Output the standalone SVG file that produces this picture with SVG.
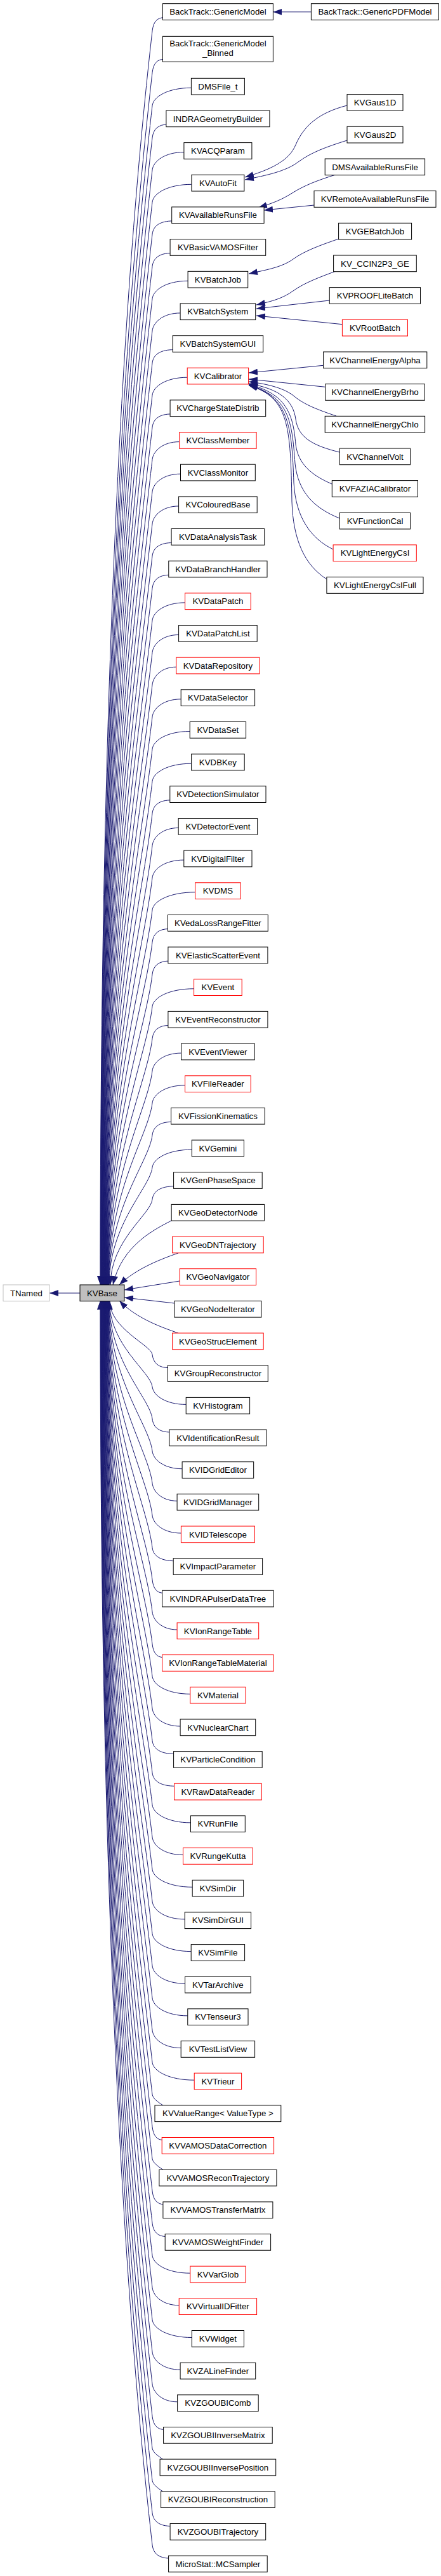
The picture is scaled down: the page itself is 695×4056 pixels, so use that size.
<svg xmlns="http://www.w3.org/2000/svg" width="695" height="4056" viewBox="0 0 695 4056">
<style>
.node rect{fill:#fff;stroke:#000;stroke-width:1}
.node.red rect{stroke:#ff0000}
.node.base rect{fill:#bfbfbf}
.node.ext rect{stroke:#bfbfbf}
.node text{font-family:"Liberation Sans",Arial,Helvetica,sans-serif;font-size:13.3px;text-anchor:middle;fill:#000}
#edges path{fill:none;stroke:#191970;stroke-width:1;marker-end:url(#arrow)}
</style>
<defs>
<marker id="arrow" viewBox="0 0 14 10" refX="14" refY="5" markerWidth="14" markerHeight="10" markerUnits="userSpaceOnUse" orient="auto"><path d="M0,0 L14,5 L0,10 Z" fill="#191970"/></marker>
</defs>
<rect x="0" y="0" width="695" height="4056" fill="#fff"/>
<g id="edges">
<path d="M126,2036 L78,2036"/>
<path d="M490.4,18.8 L430.4,18.8"/>
<path d="M547,166 C500,178 478,200 466,228 C456,252 430,266 386,279"/>
<path d="M547,221 C515,231 490,240 470,255 C450,270 420,276 386,283"/>
<path d="M529,275 C500,284 480,292 462,303 C445,314 430,320 407,327"/>
<path d="M495,323 L416,331"/>
<path d="M534,376 C505,386 480,395 462,408 C445,420 425,424 392,431"/>
<path d="M529,427 C505,436 480,445 462,458 C445,470 430,474 404,480"/>
<path d="M519.3,473 L404,486"/>
<path d="M539.4,510.7 L404,497"/>
<path d="M509.6,575.3 L392,587"/>
<path d="M512.7,609.3 L392,597"/>
<path d="M530,655 C500,645 480,637 465,625 C450,612 425,605 392,601"/>
<path d="M535,712 C495,702 470,690 466,660 C462,630 440,612 392,604"/>
<path d="M523,762 C490,748 470,730 466,700 C462,650 450,620 392,605"/>
<path d="M535,816 C495,800 470,775 465,730 C460,660 455,625 392,606"/>
<path d="M525,865 C490,848 466,815 463,760 C460,670 455,625 392,606"/>
<path d="M515,912 C480,890 462,850 460,790 C458,670 455,625 392,607"/>
<path d="M258.4,27.7 C247.4,27.7 241.6,34.7 240,48.7 C200.5,394.2 158,996.4 158,2023"/>
<path d="M258.4,93.3 C247.4,93.3 241.6,100.3 240,114.3 C201.8,448.3 158.4,1030.5 158.4,2023"/>
<path d="M301.4,138.3 C264.6,138.3 241.6,152.3 240,166.3 C202.9,491.2 158.8,1057.5 158.8,2023"/>
<path d="M263.9,196 C249.6,196 241.6,203 240,217 C203.9,533 159.2,1083.9 159.2,2023"/>
<path d="M289.9,239.6 C260,239.6 241.6,253.6 240,267.6 C204.9,574.8 159.6,1110.2 159.6,2023"/>
<path d="M301.9,290.3 C264.8,290.3 241.6,304.3 240,318.3 C205.9,616.6 160,1136.6 160,2023"/>
<path d="M272.7,347.9 C253.1,347.9 241.6,354.9 240,368.9 C206.9,658.4 160.4,1162.9 160.4,2023"/>
<path d="M270.1,398.6 C252,398.6 241.6,405.6 240,419.6 C207.9,700.2 160.8,1189.2 160.8,2023"/>
<path d="M296.1,442.3 C262.4,442.3 241.6,456.3 240,470.3 C208.9,742 161.2,1215.6 161.2,2023"/>
<path d="M284.1,492.9 C257.6,492.9 241.6,506.9 240,520.9 C210,783.8 161.6,1241.9 161.6,2023"/>
<path d="M274.1,550.6 C253.6,550.6 241.6,557.6 240,571.6 C211,825.6 162,1268.3 162,2023"/>
<path d="M295.2,594.2 C262.1,594.2 241.6,608.2 240,622.2 C212,867.3 162.4,1294.6 162.4,2023"/>
<path d="M270.1,651.9 C252,651.9 241.6,658.9 240,672.9 C213,909.2 162.8,1320.9 162.8,2023"/>
<path d="M282.7,695.6 C257.1,695.6 241.6,709.6 240,723.6 C214,951 163.2,1347.3 163.2,2023"/>
<path d="M284.5,746.2 C257.8,746.2 241.6,760.2 240,774.2 C215,992.7 163.6,1373.6 163.6,2023"/>
<path d="M281.6,796.9 C256.6,796.9 241.6,810.9 240,824.9 C216,1034.6 164,1400 164,2023"/>
<path d="M272.1,854.5 C252.8,854.5 241.6,861.5 240,875.5 C217,1076.3 164.4,1426.3 164.4,2023"/>
<path d="M267.8,905.2 C251.1,905.2 241.6,912.2 240,926.2 C218.1,1118.1 164.8,1452.7 164.8,2023"/>
<path d="M291.6,948.9 C260.6,948.9 241.6,962.9 240,976.9 C219.1,1160 165.2,1479 165.2,2023"/>
<path d="M281.6,999.5 C256.6,999.5 241.6,1013.5 240,1027.5 C220.1,1201.7 165.6,1505.3 165.6,2023"/>
<path d="M277.8,1050.2 C255.1,1050.2 241.6,1064.2 240,1078.2 C221.1,1243.5 166,1531.7 166,2023"/>
<path d="M285.2,1100.8 C258.1,1100.8 241.6,1114.8 240,1128.8 C222.1,1285.3 166.4,1558 166.4,2023"/>
<path d="M299.2,1151.5 C263.7,1151.5 241.6,1165.5 240,1179.5 C223.1,1327.1 166.8,1584.4 166.8,2023"/>
<path d="M301.6,1202.2 C264.6,1202.2 241.6,1216.2 240,1230.2 C224.1,1368.9 167.2,1610.7 167.2,2023"/>
<path d="M269.8,1259.8 C251.9,1259.8 241.6,1266.8 240,1280.8 C225.2,1410.7 167.6,1637.1 167.6,2023"/>
<path d="M281.2,1303.5 C256.5,1303.5 241.6,1317.5 240,1331.5 C226.2,1452.5 168,1663.4 168,2023"/>
<path d="M289.8,1354.1 C259.9,1354.1 241.6,1368.1 240,1382.1 C227.2,1494.3 168.4,1689.7 168.4,2023"/>
<path d="M307.6,1404.8 C267,1404.8 241.6,1418.8 240,1432.8 C228.2,1536.1 168.8,1716.1 168.8,2023"/>
<path d="M266.5,1462.5 C250.6,1462.5 241.6,1469.5 240,1483.5 C229.2,1577.9 169.2,1742.5 169.2,2023"/>
<path d="M266.9,1513.1 C250.8,1513.1 241.6,1520.1 240,1534.1 C230.2,1619.7 169.6,1768.8 169.6,2023"/>
<path d="M305.6,1556.8 C266.2,1556.8 241.6,1570.8 240,1584.8 C231.2,1661.5 170,1795.1 170,2023"/>
<path d="M266.9,1614.4 C250.8,1614.4 241.6,1621.4 240,1635.4 C232.2,1703.2 170.4,1821.4 170.4,2023"/>
<path d="M285.6,1658.1 C258.2,1658.1 241.6,1672.1 240,1686.1 C233.3,1745.1 170.8,1847.8 170.8,2023"/>
<path d="M291.6,1708.8 C260.6,1708.8 241.6,1722.8 240,1736.8 C234.3,1786.9 171.2,1874.2 171.2,2023"/>
<path d="M271.6,1766.4 C252.6,1766.4 241.6,1773.4 240,1787.4 C235.3,1828.6 171.6,1900.5 171.6,2023"/>
<path d="M302.3,1810.1 C264.9,1810.1 241.6,1824.1 240,1838.1 C236.3,1870.5 172,1926.9 172,2023"/>
<path d="M275.6,1867.7 C254.2,1867.7 241.6,1874.7 240,1888.7 C237.3,1912.2 174,1953.2 174,2023"/>
<path d="M272,1921 C245,1935 192,1960 178,2023"/>
<path d="M281,1973 C255,1982 215,1997 188,2023"/>
<path d="M283.2,2017 L196,2031"/>
<path d="M274.9,2052 L196,2043"/>
<path d="M281,2099 C255,2090 215,2076 188,2048"/>
<path d="M266.5,2153.7 C250.6,2153.7 241.6,2146.7 240,2132.7 C238.3,2117.9 172.8,2092 172.8,2048"/>
<path d="M293.2,2211.4 C261.3,2211.4 241.6,2197.4 240,2183.4 C237.3,2159.7 172.4,2118.4 172.4,2048"/>
<path d="M268.9,2255 C251.6,2255 241.6,2248 240,2234 C236.3,2201.4 172,2144.7 172,2048"/>
<path d="M287.1,2312.7 C258.8,2312.7 241.6,2298.7 240,2284.7 C235.3,2243.3 171.6,2171.1 171.6,2048"/>
<path d="M279.1,2363.3 C255.6,2363.3 241.6,2349.3 240,2335.3 C234.3,2285 171.2,2197.4 171.2,2048"/>
<path d="M285.4,2414 C258.2,2414 241.6,2400 240,2386 C233.2,2326.8 170.8,2223.8 170.8,2048"/>
<path d="M275.2,2457.7 C254.1,2457.7 241.6,2450.7 240,2436.7 C232.2,2368.7 170.4,2250.1 170.4,2048"/>
<path d="M257.6,2508.3 C247,2508.3 241.6,2501.3 240,2487.3 C231.2,2410.4 170,2276.4 170,2048"/>
<path d="M279.1,2566 C255.6,2566 241.6,2552 240,2538 C230.2,2452.2 169.6,2302.8 169.6,2048"/>
<path d="M257.6,2609.6 C247,2609.6 241.6,2602.6 240,2588.6 C229.2,2494 169.2,2329.1 169.2,2048"/>
<path d="M299.8,2667.3 C263.9,2667.3 241.6,2653.3 240,2639.3 C228.2,2535.8 168.8,2355.5 168.8,2048"/>
<path d="M284.1,2718 C257.6,2718 241.6,2704 240,2690 C227.2,2577.6 168.4,2381.8 168.4,2048"/>
<path d="M275.6,2761.6 C254.2,2761.6 241.6,2754.6 240,2740.6 C226.1,2619.4 168,2408.2 168,2048"/>
<path d="M276.5,2812.3 C254.6,2812.3 241.6,2805.3 240,2791.3 C225.1,2661.2 167.6,2434.5 167.6,2048"/>
<path d="M300.5,2869.9 C264.2,2869.9 241.6,2855.9 240,2841.9 C224.1,2703 167.2,2460.8 167.2,2048"/>
<path d="M288.5,2920.6 C259.4,2920.6 241.6,2906.6 240,2892.6 C223.1,2744.8 166.8,2487.2 166.8,2048"/>
<path d="M303.2,2971.3 C265.3,2971.3 241.6,2957.3 240,2943.3 C222.1,2786.6 166.4,2513.6 166.4,2048"/>
<path d="M291.2,3021.9 C260.5,3021.9 241.6,3007.9 240,2993.9 C221.1,2828.4 166,2539.9 166,2048"/>
<path d="M301.2,3072.6 C264.5,3072.6 241.6,3058.6 240,3044.6 C220.1,2870.2 165.6,2566.2 165.6,2048"/>
<path d="M291.6,3123.2 C260.6,3123.2 241.6,3109.2 240,3095.2 C219.1,2911.9 165.2,2592.5 165.2,2048"/>
<path d="M295.8,3173.9 C262.3,3173.9 241.6,3159.9 240,3145.9 C218,2953.8 164.8,2618.9 164.8,2048"/>
<path d="M285.2,3224.6 C258.1,3224.6 241.6,3210.6 240,3196.6 C217,2995.6 164.4,2645.3 164.4,2048"/>
<path d="M306.2,3275.2 C266.5,3275.2 241.6,3261.2 240,3247.2 C216,3037.3 164,2671.6 164,2048"/>
<path d="M257,3315 C248,3309 241.6,3305 240,3297.9 C215.3,3082.1 163.6,2706.1 163.6,2048"/>
<path d="M257.2,3369.5 C246.9,3369.5 241.6,3362.5 240,3348.5 C214,3120.9 163.2,2724.3 163.2,2048"/>
<path d="M257,3416.5 C248,3410 241.6,3406 240,3399.2 C213,3162.7 162.8,2750.6 162.8,2048"/>
<path d="M258.9,3470.9 C247.6,3470.9 241.6,3463.9 240,3449.9 C212,3204.6 162.4,2777 162.4,2048"/>
<path d="M262.2,3521.5 C248.9,3521.5 241.6,3514.5 240,3500.5 C211,3246.3 162,2803.3 162,2048"/>
<path d="M299.8,3579.2 C263.9,3579.2 241.6,3565.2 240,3551.2 C209.9,3288.1 161.6,2829.7 161.6,2048"/>
<path d="M282.2,3629.8 C256.9,3629.8 241.6,3615.8 240,3601.8 C208.9,3329.9 161.2,2856 161.2,2048"/>
<path d="M302.3,3680.5 C264.9,3680.5 241.6,3666.5 240,3652.5 C207.9,3371.7 160.8,2882.3 160.8,2048"/>
<path d="M284.1,3731.2 C257.6,3731.2 241.6,3717.2 240,3703.2 C206.9,3413.5 160.4,2908.7 160.4,2048"/>
<path d="M279.6,3781.8 C255.8,3781.8 241.6,3767.8 240,3753.8 C205.9,3455.3 160,2935 160,2048"/>
<path d="M259.6,3825.5 C247.8,3825.5 241.6,3818.5 240,3804.5 C204.9,3497.1 159.6,2961.4 159.6,2048"/>
<path d="M257,3872.5 C248,3866 241.6,3862 240,3855.1 C203.9,3538.9 159.2,2987.7 159.2,2048"/>
<path d="M257,3923.2 C248,3917 241.6,3913 240,3905.8 C202.8,3580.7 158.8,3014.1 158.8,2048"/>
<path d="M270.1,3977.5 C252,3977.5 241.6,3970.5 240,3956.5 C201.8,3622.5 158.4,3040.4 158.4,2048"/>
<path d="M267.6,4028.1 C251,4028.1 241.6,4021.1 240,4007.1 C200.8,3664.3 158,3066.7 158,2048"/>
</g>
<g id="n-TNamed" class="node ext" transform="translate(0,2023)"><rect x="5" y="0" width="73" height="25.7"/><text x="41.5" y="17.6">TNamed</text></g>
<g id="n-KVBase" class="node base" transform="translate(0,2023)"><rect x="126" y="0" width="70" height="25.7"/><text x="161" y="17.6">KVBase</text></g>
<g id="n-GenericPDFModel" class="node" transform="translate(0,5.7)"><rect x="490.4" y="0" width="201" height="25.7"/><text x="591" y="17.6">BackTrack::GenericPDFModel</text></g>
<g id="n-KVGaus1D" class="node" transform="translate(0,148.6)"><rect x="547" y="0" width="88" height="25.7"/><text x="591" y="17.6">KVGaus1D</text></g>
<g id="n-KVGaus2D" class="node" transform="translate(0,199.3)"><rect x="547" y="0" width="88" height="25.7"/><text x="591" y="17.6">KVGaus2D</text></g>
<g id="n-DMSAvailableRunsFile" class="node" transform="translate(0,250)"><rect x="512.2" y="0" width="157.4" height="25.7"/><text x="591" y="17.6">DMSAvailableRunsFile</text></g>
<g id="n-KVRemoteAvailableRunsFile" class="node" transform="translate(0,300.6)"><rect x="495" y="0" width="192" height="25.7"/><text x="591" y="17.6">KVRemoteAvailableRunsFile</text></g>
<g id="n-KVGEBatchJob" class="node" transform="translate(0,351.3)"><rect x="533.6" y="0" width="115" height="25.7"/><text x="591" y="17.6">KVGEBatchJob</text></g>
<g id="n-KV_CCIN2P3_GE" class="node" transform="translate(0,402)"><rect x="525.6" y="0" width="130.7" height="25.7"/><text x="591" y="17.6">KV_CCIN2P3_GE</text></g>
<g id="n-KVPROOFLiteBatch" class="node" transform="translate(0,452.6)"><rect x="519.3" y="0" width="143.2" height="25.7"/><text x="591" y="17.6">KVPROOFLiteBatch</text></g>
<g id="n-KVRootBatch" class="node red" transform="translate(0,503.3)"><rect x="539.4" y="0" width="103.1" height="25.7"/><text x="591" y="17.6">KVRootBatch</text></g>
<g id="n-KVChannelEnergyAlpha" class="node" transform="translate(0,554)"><rect x="509.6" y="0" width="163.2" height="25.7"/><text x="591" y="17.6">KVChannelEnergyAlpha</text></g>
<g id="n-KVChannelEnergyBrho" class="node" transform="translate(0,604.6)"><rect x="512.7" y="0" width="156.5" height="25.7"/><text x="591" y="17.6">KVChannelEnergyBrho</text></g>
<g id="n-KVChannelEnergyChIo" class="node" transform="translate(0,655.3)"><rect x="512.2" y="0" width="157.4" height="25.7"/><text x="591" y="17.6">KVChannelEnergyChIo</text></g>
<g id="n-KVChannelVolt" class="node" transform="translate(0,706)"><rect x="535.3" y="0" width="111.2" height="25.7"/><text x="591" y="17.6">KVChannelVolt</text></g>
<g id="n-KVFAZIACalibrator" class="node" transform="translate(0,756.6)"><rect x="523.3" y="0" width="135.2" height="25.7"/><text x="591" y="17.6">KVFAZIACalibrator</text></g>
<g id="n-KVFunctionCal" class="node" transform="translate(0,807.3)"><rect x="535.3" y="0" width="111.2" height="25.7"/><text x="591" y="17.6">KVFunctionCal</text></g>
<g id="n-KVLightEnergyCsI" class="node red" transform="translate(0,857.9)"><rect x="525.1" y="0" width="131.2" height="25.7"/><text x="591" y="17.6">KVLightEnergyCsI</text></g>
<g id="n-KVLightEnergyCsIFull" class="node" transform="translate(0,908.6)"><rect x="514.9" y="0" width="152.1" height="25.7"/><text x="591" y="17.6">KVLightEnergyCsIFull</text></g>
<g id="n-GenericModel" class="node" transform="translate(0,5.7)"><rect x="256.4" y="0" width="174" height="25.7"/><text x="343.4" y="17.6">BackTrack::GenericModel</text></g>
<g id="n-GenericModel_Binned" class="node" transform="translate(0,57.3)"><rect x="256.4" y="0" width="174" height="40"/><text x="343.4" y="16">BackTrack::GenericModel</text><text x="343.4" y="31">_Binned</text></g>
<g id="n-DMSFile_t" class="node" transform="translate(0,123.3)"><rect x="301.4" y="0" width="84" height="25.7"/><text x="343.4" y="17.6">DMSFile_t</text></g>
<g id="n-INDRAGeometryBuilder" class="node" transform="translate(0,174)"><rect x="261.9" y="0" width="163" height="25.7"/><text x="343.4" y="17.6">INDRAGeometryBuilder</text></g>
<g id="n-KVACQParam" class="node" transform="translate(0,224.6)"><rect x="289.9" y="0" width="107" height="25.7"/><text x="343.4" y="17.6">KVACQParam</text></g>
<g id="n-KVAutoFit" class="node" transform="translate(0,275.3)"><rect x="301.9" y="0" width="83" height="25.7"/><text x="343.4" y="17.6">KVAutoFit</text></g>
<g id="n-KVAvailableRunsFile" class="node" transform="translate(0,325.9)"><rect x="270.7" y="0" width="145.4" height="25.7"/><text x="343.4" y="17.6">KVAvailableRunsFile</text></g>
<g id="n-KVBasicVAMOSFilter" class="node" transform="translate(0,376.6)"><rect x="268.1" y="0" width="150.6" height="25.7"/><text x="343.4" y="17.6">KVBasicVAMOSFilter</text></g>
<g id="n-KVBatchJob" class="node" transform="translate(0,427.3)"><rect x="296.1" y="0" width="94.6" height="25.7"/><text x="343.4" y="17.6">KVBatchJob</text></g>
<g id="n-KVBatchSystem" class="node" transform="translate(0,477.9)"><rect x="284.1" y="0" width="118.6" height="25.7"/><text x="343.4" y="17.6">KVBatchSystem</text></g>
<g id="n-KVBatchSystemGUI" class="node" transform="translate(0,528.6)"><rect x="272.1" y="0" width="142.6" height="25.7"/><text x="343.4" y="17.6">KVBatchSystemGUI</text></g>
<g id="n-KVCalibrator" class="node red" transform="translate(0,579.2)"><rect x="295.2" y="0" width="96.4" height="25.7"/><text x="343.4" y="17.6">KVCalibrator</text></g>
<g id="n-KVChargeStateDistrib" class="node" transform="translate(0,629.9)"><rect x="268.1" y="0" width="150.6" height="25.7"/><text x="343.4" y="17.6">KVChargeStateDistrib</text></g>
<g id="n-KVClassMember" class="node red" transform="translate(0,680.6)"><rect x="282.7" y="0" width="121.4" height="25.7"/><text x="343.4" y="17.6">KVClassMember</text></g>
<g id="n-KVClassMonitor" class="node" transform="translate(0,731.2)"><rect x="284.5" y="0" width="117.8" height="25.7"/><text x="343.4" y="17.6">KVClassMonitor</text></g>
<g id="n-KVColouredBase" class="node" transform="translate(0,781.9)"><rect x="281.6" y="0" width="123.6" height="25.7"/><text x="343.4" y="17.6">KVColouredBase</text></g>
<g id="n-KVDataAnalysisTask" class="node" transform="translate(0,832.5)"><rect x="270.1" y="0" width="146.6" height="25.7"/><text x="343.4" y="17.6">KVDataAnalysisTask</text></g>
<g id="n-KVDataBranchHandler" class="node" transform="translate(0,883.2)"><rect x="265.8" y="0" width="155.2" height="25.7"/><text x="343.4" y="17.6">KVDataBranchHandler</text></g>
<g id="n-KVDataPatch" class="node red" transform="translate(0,933.9)"><rect x="291.6" y="0" width="103.6" height="25.7"/><text x="343.4" y="17.6">KVDataPatch</text></g>
<g id="n-KVDataPatchList" class="node" transform="translate(0,984.5)"><rect x="281.6" y="0" width="123.6" height="25.7"/><text x="343.4" y="17.6">KVDataPatchList</text></g>
<g id="n-KVDataRepository" class="node red" transform="translate(0,1035.2)"><rect x="277.8" y="0" width="131.2" height="25.7"/><text x="343.4" y="17.6">KVDataRepository</text></g>
<g id="n-KVDataSelector" class="node" transform="translate(0,1085.8)"><rect x="285.2" y="0" width="116.4" height="25.7"/><text x="343.4" y="17.6">KVDataSelector</text></g>
<g id="n-KVDataSet" class="node" transform="translate(0,1136.5)"><rect x="299.2" y="0" width="88.4" height="25.7"/><text x="343.4" y="17.6">KVDataSet</text></g>
<g id="n-KVDBKey" class="node" transform="translate(0,1187.2)"><rect x="301.6" y="0" width="83.6" height="25.7"/><text x="343.4" y="17.6">KVDBKey</text></g>
<g id="n-KVDetectionSimulator" class="node" transform="translate(0,1237.8)"><rect x="267.8" y="0" width="151.2" height="25.7"/><text x="343.4" y="17.6">KVDetectionSimulator</text></g>
<g id="n-KVDetectorEvent" class="node" transform="translate(0,1288.5)"><rect x="281.2" y="0" width="124.4" height="25.7"/><text x="343.4" y="17.6">KVDetectorEvent</text></g>
<g id="n-KVDigitalFilter" class="node" transform="translate(0,1339.1)"><rect x="289.8" y="0" width="107.2" height="25.7"/><text x="343.4" y="17.6">KVDigitalFilter</text></g>
<g id="n-KVDMS" class="node red" transform="translate(0,1389.8)"><rect x="307.6" y="0" width="71.6" height="25.7"/><text x="343.4" y="17.6">KVDMS</text></g>
<g id="n-KVedaLossRangeFitter" class="node" transform="translate(0,1440.5)"><rect x="264.5" y="0" width="157.8" height="25.7"/><text x="343.4" y="17.6">KVedaLossRangeFitter</text></g>
<g id="n-KVElasticScatterEvent" class="node" transform="translate(0,1491.1)"><rect x="264.9" y="0" width="157" height="25.7"/><text x="343.4" y="17.6">KVElasticScatterEvent</text></g>
<g id="n-KVEvent" class="node red" transform="translate(0,1541.8)"><rect x="305.6" y="0" width="75.6" height="25.7"/><text x="343.4" y="17.6">KVEvent</text></g>
<g id="n-KVEventReconstructor" class="node" transform="translate(0,1592.4)"><rect x="264.9" y="0" width="157" height="25.7"/><text x="343.4" y="17.6">KVEventReconstructor</text></g>
<g id="n-KVEventViewer" class="node" transform="translate(0,1643.1)"><rect x="285.6" y="0" width="115.6" height="25.7"/><text x="343.4" y="17.6">KVEventViewer</text></g>
<g id="n-KVFileReader" class="node red" transform="translate(0,1693.8)"><rect x="291.6" y="0" width="103.6" height="25.7"/><text x="343.4" y="17.6">KVFileReader</text></g>
<g id="n-KVFissionKinematics" class="node" transform="translate(0,1744.4)"><rect x="269.6" y="0" width="147.6" height="25.7"/><text x="343.4" y="17.6">KVFissionKinematics</text></g>
<g id="n-KVGemini" class="node" transform="translate(0,1795.1)"><rect x="302.3" y="0" width="82.2" height="25.7"/><text x="343.4" y="17.6">KVGemini</text></g>
<g id="n-KVGenPhaseSpace" class="node" transform="translate(0,1845.7)"><rect x="273.6" y="0" width="139.6" height="25.7"/><text x="343.4" y="17.6">KVGenPhaseSpace</text></g>
<g id="n-KVGeoDetectorNode" class="node" transform="translate(0,1896.4)"><rect x="270.2" y="0" width="146.4" height="25.7"/><text x="343.4" y="17.6">KVGeoDetectorNode</text></g>
<g id="n-KVGeoDNTrajectory" class="node red" transform="translate(0,1947.1)"><rect x="271.6" y="0" width="143.6" height="25.7"/><text x="343.4" y="17.6">KVGeoDNTrajectory</text></g>
<g id="n-KVGeoNavigator" class="node red" transform="translate(0,1997.7)"><rect x="283.2" y="0" width="120.4" height="25.7"/><text x="343.4" y="17.6">KVGeoNavigator</text></g>
<g id="n-KVGeoNodeIterator" class="node" transform="translate(0,2048.4)"><rect x="274.9" y="0" width="137" height="25.7"/><text x="343.4" y="17.6">KVGeoNodeIterator</text></g>
<g id="n-KVGeoStrucElement" class="node red" transform="translate(0,2099)"><rect x="271.6" y="0" width="143.6" height="25.7"/><text x="343.4" y="17.6">KVGeoStrucElement</text></g>
<g id="n-KVGroupReconstructor" class="node" transform="translate(0,2149.7)"><rect x="264.5" y="0" width="157.8" height="25.7"/><text x="343.4" y="17.6">KVGroupReconstructor</text></g>
<g id="n-KVHistogram" class="node" transform="translate(0,2200.4)"><rect x="293.2" y="0" width="100.4" height="25.7"/><text x="343.4" y="17.6">KVHistogram</text></g>
<g id="n-KVIdentificationResult" class="node" transform="translate(0,2251)"><rect x="266.9" y="0" width="153" height="25.7"/><text x="343.4" y="17.6">KVIdentificationResult</text></g>
<g id="n-KVIDGridEditor" class="node" transform="translate(0,2301.7)"><rect x="287.1" y="0" width="112.6" height="25.7"/><text x="343.4" y="17.6">KVIDGridEditor</text></g>
<g id="n-KVIDGridManager" class="node" transform="translate(0,2352.3)"><rect x="279.1" y="0" width="128.6" height="25.7"/><text x="343.4" y="17.6">KVIDGridManager</text></g>
<g id="n-KVIDTelescope" class="node red" transform="translate(0,2403)"><rect x="285.4" y="0" width="116" height="25.7"/><text x="343.4" y="17.6">KVIDTelescope</text></g>
<g id="n-KVImpactParameter" class="node" transform="translate(0,2453.7)"><rect x="273.2" y="0" width="140.4" height="25.7"/><text x="343.4" y="17.6">KVImpactParameter</text></g>
<g id="n-KVINDRAPulserDataTree" class="node" transform="translate(0,2504.3)"><rect x="255.6" y="0" width="175.6" height="25.7"/><text x="343.4" y="17.6">KVINDRAPulserDataTree</text></g>
<g id="n-KVIonRangeTable" class="node red" transform="translate(0,2555)"><rect x="279.1" y="0" width="128.6" height="25.7"/><text x="343.4" y="17.6">KVIonRangeTable</text></g>
<g id="n-KVIonRangeTableMaterial" class="node red" transform="translate(0,2605.6)"><rect x="255.6" y="0" width="175.6" height="25.7"/><text x="343.4" y="17.6">KVIonRangeTableMaterial</text></g>
<g id="n-KVMaterial" class="node red" transform="translate(0,2656.3)"><rect x="299.8" y="0" width="87.2" height="25.7"/><text x="343.4" y="17.6">KVMaterial</text></g>
<g id="n-KVNuclearChart" class="node" transform="translate(0,2707)"><rect x="284.1" y="0" width="118.6" height="25.7"/><text x="343.4" y="17.6">KVNuclearChart</text></g>
<g id="n-KVParticleCondition" class="node" transform="translate(0,2757.6)"><rect x="273.6" y="0" width="139.6" height="25.7"/><text x="343.4" y="17.6">KVParticleCondition</text></g>
<g id="n-KVRawDataReader" class="node red" transform="translate(0,2808.3)"><rect x="274.5" y="0" width="137.8" height="25.7"/><text x="343.4" y="17.6">KVRawDataReader</text></g>
<g id="n-KVRunFile" class="node" transform="translate(0,2858.9)"><rect x="300.5" y="0" width="85.8" height="25.7"/><text x="343.4" y="17.6">KVRunFile</text></g>
<g id="n-KVRungeKutta" class="node red" transform="translate(0,2909.6)"><rect x="288.5" y="0" width="109.8" height="25.7"/><text x="343.4" y="17.6">KVRungeKutta</text></g>
<g id="n-KVSimDir" class="node" transform="translate(0,2960.3)"><rect x="303.2" y="0" width="80.4" height="25.7"/><text x="343.4" y="17.6">KVSimDir</text></g>
<g id="n-KVSimDirGUI" class="node" transform="translate(0,3010.9)"><rect x="291.2" y="0" width="104.4" height="25.7"/><text x="343.4" y="17.6">KVSimDirGUI</text></g>
<g id="n-KVSimFile" class="node" transform="translate(0,3061.6)"><rect x="301.2" y="0" width="84.4" height="25.7"/><text x="343.4" y="17.6">KVSimFile</text></g>
<g id="n-KVTarArchive" class="node" transform="translate(0,3112.2)"><rect x="291.6" y="0" width="103.6" height="25.7"/><text x="343.4" y="17.6">KVTarArchive</text></g>
<g id="n-KVTenseur3" class="node" transform="translate(0,3162.9)"><rect x="295.8" y="0" width="95.2" height="25.7"/><text x="343.4" y="17.6">KVTenseur3</text></g>
<g id="n-KVTestListView" class="node" transform="translate(0,3213.6)"><rect x="285.2" y="0" width="116.4" height="25.7"/><text x="343.4" y="17.6">KVTestListView</text></g>
<g id="n-KVTrieur" class="node red" transform="translate(0,3264.2)"><rect x="306.2" y="0" width="74.4" height="25.7"/><text x="343.4" y="17.6">KVTrieur</text></g>
<g id="n-KVValueRange" class="node" transform="translate(0,3314.9)"><rect x="244" y="0" width="198.8" height="25.7"/><text x="343.4" y="17.6">KVValueRange&lt; ValueType &gt;</text></g>
<g id="n-KVVAMOSDataCorrection" class="node red" transform="translate(0,3365.5)"><rect x="255.2" y="0" width="176.4" height="25.7"/><text x="343.4" y="17.6">KVVAMOSDataCorrection</text></g>
<g id="n-KVVAMOSReconTrajectory" class="node" transform="translate(0,3416.2)"><rect x="250.9" y="0" width="185" height="25.7"/><text x="343.4" y="17.6">KVVAMOSReconTrajectory</text></g>
<g id="n-KVVAMOSTransferMatrix" class="node" transform="translate(0,3466.9)"><rect x="256.9" y="0" width="173" height="25.7"/><text x="343.4" y="17.6">KVVAMOSTransferMatrix</text></g>
<g id="n-KVVAMOSWeightFinder" class="node" transform="translate(0,3517.5)"><rect x="260.2" y="0" width="166.4" height="25.7"/><text x="343.4" y="17.6">KVVAMOSWeightFinder</text></g>
<g id="n-KVVarGlob" class="node red" transform="translate(0,3568.2)"><rect x="299.8" y="0" width="87.2" height="25.7"/><text x="343.4" y="17.6">KVVarGlob</text></g>
<g id="n-KVVirtualIDFitter" class="node red" transform="translate(0,3618.8)"><rect x="282.2" y="0" width="122.4" height="25.7"/><text x="343.4" y="17.6">KVVirtualIDFitter</text></g>
<g id="n-KVWidget" class="node" transform="translate(0,3669.5)"><rect x="302.3" y="0" width="82.2" height="25.7"/><text x="343.4" y="17.6">KVWidget</text></g>
<g id="n-KVZALineFinder" class="node" transform="translate(0,3720.2)"><rect x="284.1" y="0" width="118.6" height="25.7"/><text x="343.4" y="17.6">KVZALineFinder</text></g>
<g id="n-KVZGOUBIComb" class="node" transform="translate(0,3770.8)"><rect x="279.6" y="0" width="127.6" height="25.7"/><text x="343.4" y="17.6">KVZGOUBIComb</text></g>
<g id="n-KVZGOUBIInverseMatrix" class="node" transform="translate(0,3821.5)"><rect x="257.6" y="0" width="171.6" height="25.7"/><text x="343.4" y="17.6">KVZGOUBIInverseMatrix</text></g>
<g id="n-KVZGOUBIInversePosition" class="node" transform="translate(0,3872.1)"><rect x="252.1" y="0" width="182.6" height="25.7"/><text x="343.4" y="17.6">KVZGOUBIInversePosition</text></g>
<g id="n-KVZGOUBIReconstruction" class="node" transform="translate(0,3922.8)"><rect x="253.6" y="0" width="179.6" height="25.7"/><text x="343.4" y="17.6">KVZGOUBIReconstruction</text></g>
<g id="n-KVZGOUBITrajectory" class="node" transform="translate(0,3973.5)"><rect x="268.1" y="0" width="150.6" height="25.7"/><text x="343.4" y="17.6">KVZGOUBITrajectory</text></g>
<g id="n-MCSampler" class="node" transform="translate(0,4024.1)"><rect x="265.6" y="0" width="155.6" height="25.7"/><text x="343.4" y="17.6">MicroStat::MCSampler</text></g>
</svg>
